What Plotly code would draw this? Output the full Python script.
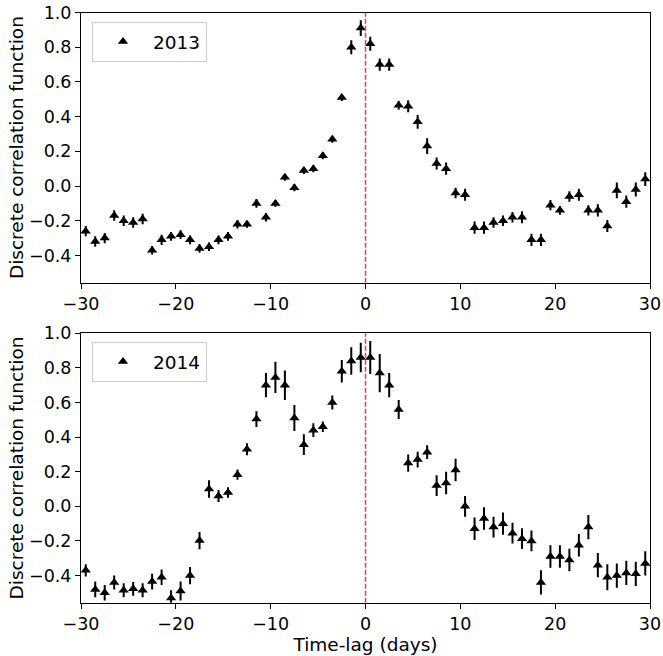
import plotly.graph_objects as go

# Time-lag bin centres (days)
lags = [x + 0.5 for x in range(-30, 30)]

# Discrete correlation function, 2013 campaign
dcf_2013 = [-0.26, -0.32, -0.30, -0.17, -0.20, -0.21, -0.19, -0.37, -0.31, -0.29,
            -0.28, -0.31, -0.36, -0.35, -0.31, -0.29, -0.22, -0.22, -0.10, -0.18,
            -0.10, 0.05, -0.01, 0.09, 0.10, 0.175, 0.27, 0.51, 0.80, 0.91,
            0.82, 0.70, 0.70, 0.465, 0.46, 0.37, 0.23, 0.13, 0.10, -0.04,
            -0.05, -0.24, -0.24, -0.21, -0.20, -0.18, -0.18, -0.31, -0.31, -0.11,
            -0.14, -0.06, -0.05, -0.14, -0.14, -0.23, -0.025, -0.09, -0.02, 0.04]
err_2013 = [0.03, 0.03, 0.03, 0.03, 0.03, 0.03, 0.03, 0.025, 0.03, 0.025,
            0.025, 0.025, 0.025, 0.025, 0.025, 0.025, 0.025, 0.02, 0.025, 0.025,
            0.02, 0.02, 0.02, 0.02, 0.02, 0.02, 0.02, 0.02, 0.04, 0.045,
            0.04, 0.035, 0.035, 0.025, 0.035, 0.04, 0.045, 0.035, 0.035, 0.03,
            0.035, 0.035, 0.035, 0.03, 0.03, 0.03, 0.035, 0.035, 0.035, 0.03,
            0.025, 0.03, 0.035, 0.03, 0.035, 0.035, 0.045, 0.035, 0.04, 0.04]

# Discrete correlation function, 2014 campaign
dcf_2014 = [-0.37, -0.48, -0.50, -0.44, -0.485, -0.477, -0.485, -0.435, -0.41, -0.53,
            -0.49, -0.40, -0.198, 0.10, 0.06, 0.08, 0.183, 0.33, 0.504, 0.70,
            0.745, 0.70, 0.51, 0.356, 0.44, 0.46, 0.60, 0.78, 0.84, 0.86,
            0.86, 0.77, 0.70, 0.56, 0.25, 0.27, 0.313, 0.12, 0.135, 0.21,
            0.00, -0.13, -0.07, -0.12, -0.10, -0.155, -0.187, -0.20, -0.44, -0.29,
            -0.29, -0.31, -0.225, -0.12, -0.34, -0.41, -0.40, -0.385, -0.39, -0.33]
err_2014 = [0.035, 0.045, 0.045, 0.04, 0.04, 0.04, 0.04, 0.045, 0.045, 0.045,
            0.055, 0.05, 0.05, 0.05, 0.035, 0.03, 0.03, 0.035, 0.045, 0.07,
            0.09, 0.085, 0.075, 0.06, 0.04, 0.03, 0.04, 0.065, 0.08, 0.085,
            0.095, 0.11, 0.07, 0.055, 0.05, 0.045, 0.04, 0.06, 0.065, 0.065,
            0.06, 0.065, 0.065, 0.06, 0.065, 0.06, 0.06, 0.06, 0.07, 0.065,
            0.065, 0.065, 0.065, 0.07, 0.07, 0.075, 0.07, 0.07, 0.07, 0.07]

x_ticks = [-30, -20, -10, 0, 10, 20, 30]
y_ticks = [-0.4, -0.2, 0.0, 0.2, 0.4, 0.6, 0.8, 1.0]

W, H = 663, 656
FONT = "DejaVu Sans"
TICK_SIZE = 17.5
TITLE_SIZE = 18.5


def px_x(p):
    return p / W


def px_y(p):
    return 1 - p / H


fig = go.Figure()

for series, errs, label, xa, ya, leg in [
    (dcf_2013, err_2013, "2013", "x", "y", "legend"),
    (dcf_2014, err_2014, "2014", "x2", "y2", "legend2"),
]:
    fig.add_trace(go.Scatter(
        x=lags, y=series, name=label, mode="markers",
        xaxis=xa, yaxis=ya, legend=leg,
        marker=dict(symbol="triangle-up", size=9, color="black"),
        error_y=dict(type="data", array=errs, visible=True,
                     color="black", thickness=2, width=0),
    ))

axis_common = dict(
    showline=True, mirror=True, linecolor="black", linewidth=1,
    ticks="outside", ticklen=5, tickwidth=1, tickcolor="black",
    showgrid=False, zeroline=False, automargin=False,
    tickfont=dict(family=FONT, size=TICK_SIZE, color="black"),
)

x_dom = [px_x(81), px_x(650)]
legend_common = dict(xanchor="left", yanchor="top", itemwidth=50,
                     bordercolor="#cccccc", borderwidth=1, bgcolor="white",
                     font=dict(family=FONT, size=TITLE_SIZE))
fig.update_layout(
    width=W, height=H,
    margin=dict(l=0, r=0, t=0, b=0),
    paper_bgcolor="white", plot_bgcolor="white",
    font=dict(family=FONT, size=TICK_SIZE, color="black"),
    xaxis=dict(domain=x_dom, range=[-30, 30], tickvals=x_ticks,
               anchor="y", **axis_common),
    yaxis=dict(domain=[px_y(282.7), px_y(12.5)], range=[-0.557, 1.0],
               tickvals=y_ticks, tickformat=".1f", anchor="x",
               title=dict(text="Discrete correlation function",
                          font=dict(family=FONT, size=TITLE_SIZE), standoff=0),
               **axis_common),
    xaxis2=dict(domain=x_dom, range=[-30, 30], tickvals=x_ticks,
                anchor="y2",
                title=dict(text="Time-lag (days)",
                           font=dict(family=FONT, size=TITLE_SIZE), standoff=2),
                **axis_common),
    yaxis2=dict(domain=[px_y(602.7), px_y(333.3)], range=[-0.557, 1.0],
                tickvals=y_ticks, tickformat=".1f", anchor="x2",
                title=dict(text="Discrete correlation function",
                           font=dict(family=FONT, size=TITLE_SIZE), standoff=0),
                **axis_common),
    legend=dict(x=px_x(92), y=px_y(22), **legend_common),
    legend2=dict(x=px_x(92), y=px_y(342), **legend_common),
    showlegend=True,
)

# Zero-lag reference line in each panel
for xr, yr in [("x", "y domain"), ("x2", "y2 domain")]:
    fig.add_shape(type="line", xref=xr, yref=yr, x0=0, x1=0, y0=0, y1=1,
                  line=dict(color="rgba(255,20,20,0.85)", width=1.5,
                            dash="5px,2px"))

fig.write_html("out.html")
